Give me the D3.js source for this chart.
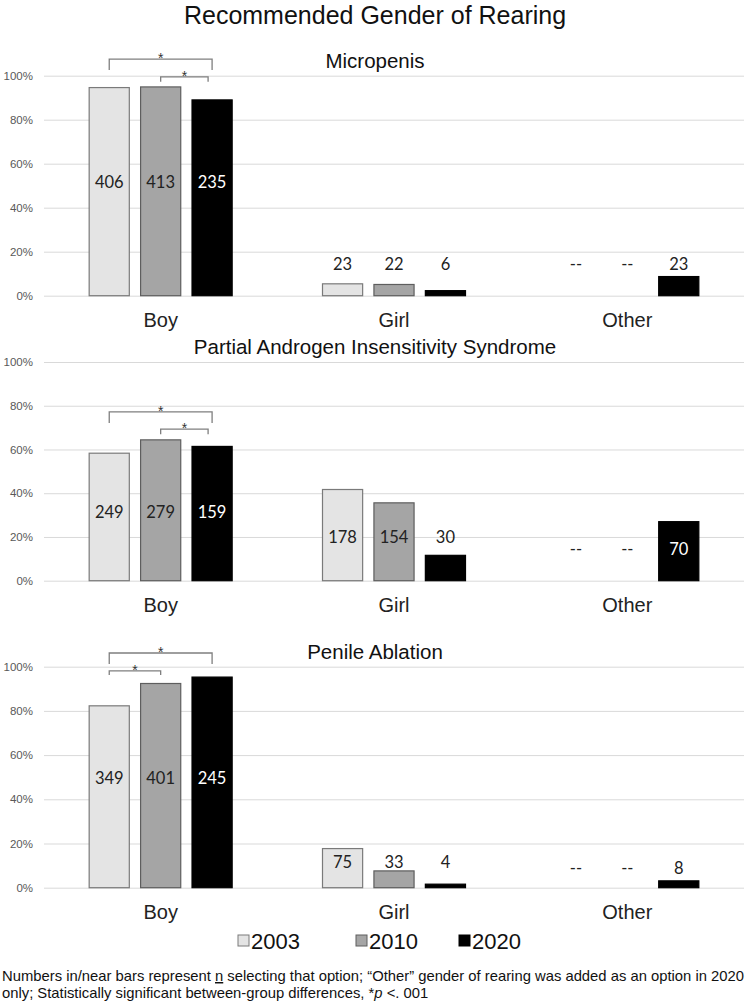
<!DOCTYPE html>
<html>
<head>
<meta charset="utf-8">
<script src="https://cdn.jsdelivr.net/npm/d3@7"></script>
<style>
body{margin:0;background:#fff}
text{font-family:"Liberation Sans",Arial,sans-serif}
</style>
</head>
<body>
<div id="chartdiv"></div>
<script>
const categories = ['Boy', 'Girl', 'Other']
const years = ['2003', '2010', '2020']
const panelTitles = ['Micropenis', 'Partial Androgen Insensitivity Syndrome', 'Penile Ablation']

// percent selecting each option, per category: [2003, 2010, 2020]
const micropenisPct = [[94.6, 94.9, 89.0], [5.4, 5.1, 2.3], [null, null, 8.7]]
const paisPct = [[58.3, 64.4, 61.4], [41.7, 35.6, 11.6], [null, null, 27.0]]
const ablationPct = [[82.3, 92.4, 95.3], [17.7, 7.6, 1.6], [null, null, 3.1]]

// n selecting that option
const micropenisN = [[406, 413, 235], [23, 22, 6], [null, null, 23]]
const paisN = [[249, 279, 159], [178, 154, 30], [null, null, 70]]
const ablationN = [[349, 401, 245], [75, 33, 4], [null, null, 8]]

const yticks = [0, 20, 40, 60, 80, 100]

// significant pairs (year index) per panel
const sigPairs = [[[0, 2], [1, 2]], [[0, 2], [1, 2]], [[0, 2], [0, 1]]]

const W = 749, H = 1006
const plotLeft = 44, plotRight = 744

// layout of each panel: pixel rows of 100% and 0%, label levels (percent) per category,
// bracket levels (percent): [top, leg end]
const panels = [
  {top: 75.7, bottom: 295.7, labelAt: [51.7, 14.4, 14.4], brackets: [[107.5, 102.6], [99.5, 97.3]]},
  {top: 362, bottom: 580.7, labelAt: [31.4, 20, 14.4], brackets: [[77.2, 72.1], [69.3, 67]]},
  {top: 666.7, bottom: 887.7, labelAt: [49.6, 11.6, 9], brackets: [[106.2, 101.2], [98.1, 96.2]]}
]
const pctData = [micropenisPct, paisPct, ablationPct]
const nData = [micropenisN, paisN, ablationN]

const fills = {'2003': '#e4e4e4', '2010': '#a5a5a5', '2020': '#000000'}
const strokes = {'2003': '#7a7a7a', '2010': '#5e5e5e', '2020': '#000000'}

const svg = d3.select('#chartdiv').append('svg')
  .attr('width', W)
  .attr('height', H)

svg.append('text')
  .attr('x', 375).attr('y', 23.5)
  .attr('text-anchor', 'middle')
  .style('font-size', '25px')
  .attr('fill', '#111')
  .text('Recommended Gender of Rearing')

const x0 = d3.scaleBand()
  .domain(categories)
  .range([plotLeft, plotRight])

const groupW = 144
const x1 = d3.scaleBand()
  .domain(years)
  .range([0, groupW])
  .paddingInner(0.2)

function drawPanel(p, i){
  const g = svg.append('g')
  const y = d3.scaleLinear().domain([0, 100]).range([p.bottom, p.top])

  // gridlines + tick labels
  const yax = g.append('g')
    .attr('transform', 'translate(' + plotRight + ',0)')
    .call(d3.axisLeft(y).tickValues(yticks).tickSize(plotRight - plotLeft).tickFormat(d => d + '%'))
  yax.select('.domain').remove()
  yax.selectAll('line').attr('stroke', '#d9d9d9')
  yax.selectAll('text')
    .attr('x', -(plotRight - plotLeft) - 11)
    .style('font-family', '"Liberation Sans", Arial, sans-serif')
    .style('font-size', '11.5px')
    .attr('fill', '#595959')

  g.append('text')
    .attr('x', 375).attr('y', p.top - 8)
    .attr('text-anchor', 'middle')
    .style('font-size', '20.5px')
    .attr('fill', '#111')
    .text(panelTitles[i])

  const groupOff = (x0.bandwidth() - groupW) / 2
  const rows = []
  categories.forEach((c, ci) => {
    years.forEach((yr, yi) => {
      rows.push({cat: c, ci: ci, year: yr, pct: pctData[i][ci][yi], n: nData[i][ci][yi]})
    })
  })
  const bx = d => x0(d.cat) + groupOff + x1(d.year)

  g.selectAll('rect.bar')
    .data(rows.filter(d => d.pct !== null))
    .join('rect')
    .attr('class', 'bar')
    .attr('x', d => bx(d) + 0.5)
    .attr('width', x1.bandwidth() - 1)
    .attr('y', d => y(d.pct))
    .attr('height', d => y(0) - y(d.pct))
    .attr('fill', d => fills[d.year])
    .attr('stroke', d => strokes[d.year])
    .attr('stroke-width', 1.2)

  g.selectAll('text.lab')
    .data(rows)
    .join('text')
    .attr('class', 'lab')
    .attr('x', d => bx(d) + x1.bandwidth() / 2)
    .attr('y', d => y(p.labelAt[d.ci]))
    .attr('dy', '0.36em')
    .attr('text-anchor', 'middle')
    .style('font-family', 'Lato, "Open Sans", sans-serif')
    .style('font-size', '16.5px')
    .attr('fill', d => (d.year === '2020' && d.pct !== null && d.pct > p.labelAt[d.ci]) ? '#fff' : '#222')
    .text(d => d.n === null ? '--' : d.n)

  // category axis labels
  g.selectAll('text.cat')
    .data(categories)
    .join('text')
    .attr('class', 'cat')
    .attr('x', d => x0(d) + x0.bandwidth() / 2)
    .attr('y', p.bottom + 31)
    .attr('text-anchor', 'middle')
    .style('font-size', '20px')
    .attr('fill', '#222')
    .text(d => d)

  // significance brackets
  sigPairs[i].forEach((pair, k) => {
    const lv = p.brackets[k]
    const xa = x0('Boy') + groupOff + x1(years[pair[0]]) + x1.bandwidth() / 2
    const xb = x0('Boy') + groupOff + x1(years[pair[1]]) + x1.bandwidth() / 2 - (k === 1 && pair[0] === 1 ? 4 : 0)
    g.append('path')
      .attr('d', 'M' + xa + ',' + y(lv[1]) + 'V' + y(lv[0]) + 'H' + xb + 'V' + y(lv[1]))
      .attr('fill', 'none')
      .attr('stroke', '#7f7f7f')
      .attr('stroke-width', 1.3)
    g.append('text')
      .attr('x', (xa + xb) / 2)
      .attr('y', y(lv[0]) + 4)
      .attr('text-anchor', 'middle')
      .style('font-size', '14px')
      .attr('fill', '#333')
      .text('*')
  })
}

panels.forEach(drawPanel)

// legend
const legX = [238, 356, 459]
const leg = svg.append('g')
years.forEach((yr, k) => {
  leg.append('rect')
    .attr('x', legX[k]).attr('y', 935)
    .attr('width', 11).attr('height', 11)
    .attr('fill', fills[yr])
    .attr('stroke', strokes[yr])
  leg.append('text')
    .attr('x', legX[k] + 13).attr('y', 949)
    .style('font-size', '22px')
    .attr('fill', '#111')
    .text(yr)
})

// footnote
const fn1 = svg.append('text')
  .attr('x', 2).attr('y', 981)
  .style('font-size', '14.8px')
  .attr('fill', '#111')
fn1.append('tspan').text('Numbers in/near bars represent ')
fn1.append('tspan').attr('text-decoration', 'underline').text('n')
fn1.append('tspan').text(' selecting that option; \u201cOther\u201d gender of rearing was added as an option in 2020')

const fn2 = svg.append('text')
  .attr('x', 2).attr('y', 998)
  .style('font-size', '14.8px')
  .attr('fill', '#111')
fn2.append('tspan').text('only; Statistically significant between-group differences, *')
fn2.append('tspan').style('font-style', 'italic').text('p')
fn2.append('tspan').text(' <. 001')
</script>
</body>
</html>
